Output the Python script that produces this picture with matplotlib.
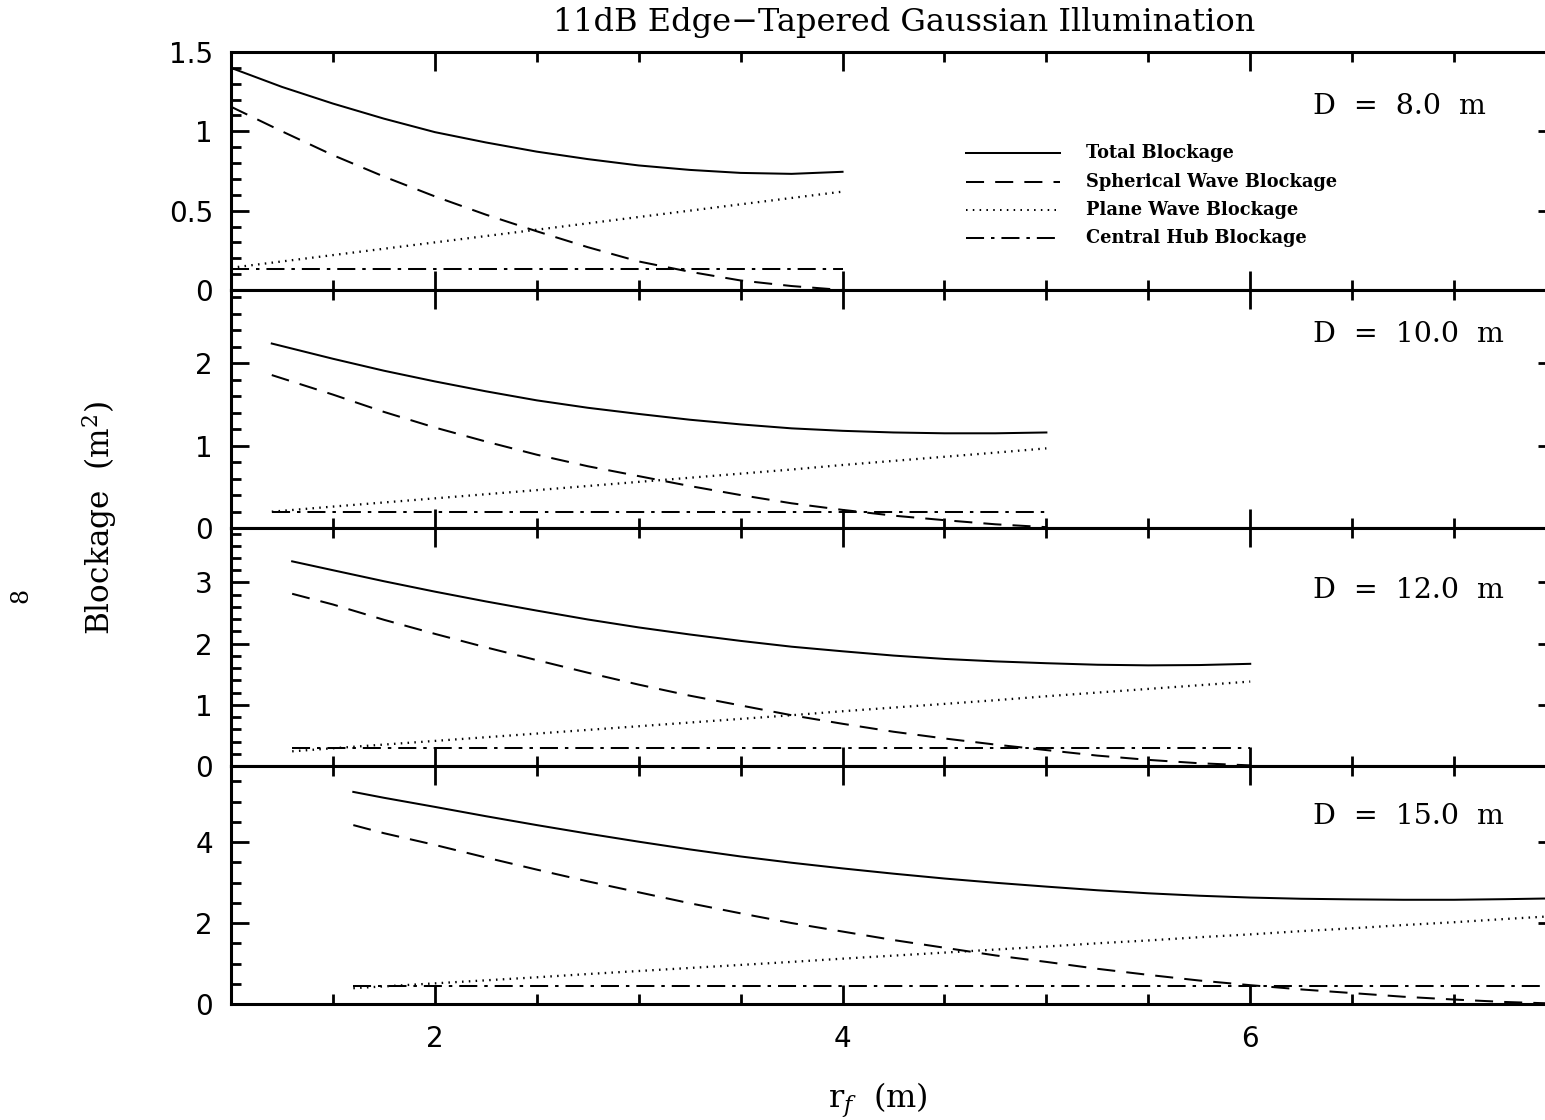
import matplotlib
matplotlib.use("Agg")
import matplotlib.pyplot as plt
from matplotlib.lines import Line2D
from matplotlib.ticker import MultipleLocator, FuncFormatter

# ---------------- data ----------------
title = "11dB Edge\u2212Tapered Gaussian Illumination"
dish_labels = ["D = 8.0 m", "D = 10.0 m", "D = 12.0 m", "D = 15.0 m"]
series_names = ["Total Blockage", "Spherical Wave Blockage",
                "Plane Wave Blockage", "Central Hub Blockage"]

rf_d8 = [1.0, 1.25, 1.5, 1.75, 2.0, 2.25, 2.5, 2.75, 3.0, 3.25, 3.5, 3.75, 4.0]
total_d8 = [1.40, 1.28, 1.175, 1.08, 0.995, 0.93, 0.872, 0.825, 0.785, 0.757, 0.738, 0.732, 0.745]
sph_d8 = [1.155, 1.0, 0.85, 0.715, 0.59, 0.475, 0.37, 0.27, 0.18, 0.115, 0.06, 0.025, 0.0]
plane_d8 = [0.14, 0.18, 0.22, 0.26, 0.30, 0.34, 0.38, 0.42, 0.46, 0.50, 0.54, 0.58, 0.62]
hub_d8 = [0.13, 0.13]

rf_d10 = [1.2, 1.5, 1.75, 2.0, 2.25, 2.5, 2.75, 3.0, 3.25, 3.5, 3.75, 4.0, 4.25, 4.5, 4.75, 5.0]
total_d10 = [2.24, 2.055, 1.91, 1.78, 1.66, 1.55, 1.46, 1.385, 1.315, 1.258, 1.21, 1.18, 1.16, 1.15, 1.15, 1.16]
sph_d10 = [1.857, 1.62, 1.41, 1.22, 1.05, 0.89, 0.75, 0.63, 0.51, 0.40, 0.30, 0.22, 0.15, 0.095, 0.045, 0.01]
plane_d10 = [0.198, 0.26, 0.31, 0.36, 0.41, 0.46, 0.51, 0.56, 0.61, 0.66, 0.71, 0.765, 0.815, 0.865, 0.915, 0.967]
hub_d10 = [0.20, 0.20]

rf_d12 = [1.3, 1.5, 1.75, 2.0, 2.25, 2.5, 2.75, 3.0, 3.25, 3.5, 3.75, 4.0, 4.25, 4.5, 4.75, 5.0,
          5.25, 5.5, 5.75, 6.0]
total_d12 = [3.345, 3.20, 3.02, 2.85, 2.69, 2.54, 2.395, 2.265, 2.15, 2.045, 1.95, 1.875, 1.805,
             1.75, 1.71, 1.68, 1.655, 1.645, 1.65, 1.67]
sph_d12 = [2.815, 2.64, 2.39, 2.16, 1.94, 1.73, 1.525, 1.33, 1.15, 0.99, 0.83, 0.69, 0.56, 0.45,
           0.35, 0.26, 0.17, 0.10, 0.045, 0.01]
plane_d12 = [0.24, 0.29, 0.35, 0.41, 0.47, 0.53, 0.59, 0.65, 0.71, 0.77, 0.83, 0.895, 0.955, 1.015,
             1.075, 1.14, 1.20, 1.26, 1.32, 1.38]
hub_d12 = [0.29, 0.29]

rf_d15 = [1.6, 1.75, 2.0, 2.25, 2.5, 2.75, 3.0, 3.25, 3.5, 3.75, 4.0, 4.25, 4.5, 4.75, 5.0, 5.25,
          5.5, 5.75, 6.0, 6.25, 6.5, 6.75, 7.0, 7.25, 7.5]
total_d15 = [5.24, 5.095, 4.87, 4.64, 4.42, 4.21, 4.01, 3.82, 3.645, 3.49, 3.35, 3.22, 3.10, 2.995,
             2.90, 2.81, 2.735, 2.675, 2.63, 2.60, 2.585, 2.575, 2.575, 2.59, 2.61]
sph_d15 = [4.42, 4.22, 3.93, 3.62, 3.32, 3.03, 2.76, 2.49, 2.24, 2.0, 1.79, 1.58, 1.39, 1.20, 1.04,
           0.87, 0.72, 0.58, 0.465, 0.36, 0.27, 0.18, 0.11, 0.05, 0.01]
plane_d15 = [0.39, 0.435, 0.51, 0.585, 0.66, 0.74, 0.815, 0.89, 0.965, 1.04, 1.12, 1.195, 1.27,
             1.345, 1.42, 1.50, 1.57, 1.65, 1.72, 1.80, 1.87, 1.95, 2.02, 2.10, 2.175]
hub_d15 = [0.445, 0.445]

y_max = [1.5, 2.89, 3.89, 5.88]
y_major = [0.5, 1, 1, 2]
y_minor = [0.1, 0.2, 0.2, 0.5]
x_range = [1.0, 7.5]

# ---------------- figure ----------------
W, H = 1545, 1120
plt.rcParams["lines.scale_dashes"] = False
plt.rcParams["mathtext.fontset"] = "dejavuserif"
fig = plt.figure(figsize=(W / 100, H / 100), dpi=100)

def fx(px):
    return px / W

def fy(py):
    return 1 - py / H

left, right, top, bottom = 231, 1556, 52, 1004
axes = fig.subplots(4, 1, sharex=True, gridspec_kw=dict(hspace=0))
fig.subplots_adjust(left=fx(left), right=fx(right), top=fy(top), bottom=fy(bottom))

styles = [dict(ls="-"),
          dict(ls=(0, (13, 8))),
          dict(ls=(0, (1.1, 3.8))),
          dict(ls=(0, (13, 5, 2.5, 5)))]
lw = 1.45

panels = [(rf_d8, total_d8, sph_d8, plane_d8, hub_d8),
          (rf_d10, total_d10, sph_d10, plane_d10, hub_d10),
          (rf_d12, total_d12, sph_d12, plane_d12, hub_d12),
          (rf_d15, total_d15, sph_d15, plane_d15, hub_d15)]

fmt = FuncFormatter(lambda v, p: f"{v:g}")
for i, (ax, (rf, tot, sph, pla, hub)) in enumerate(zip(axes, panels)):
    ax.plot(rf, tot, color="black", lw=lw, **styles[0])
    ax.plot(rf, sph, color="black", lw=lw, **styles[1])
    ax.plot(rf, pla, color="black", lw=lw + 0.2, **styles[2])
    ax.plot([rf[0], rf[-1]], hub, color="black", lw=lw, **styles[3])
    ax.set_xlim(*x_range)
    ax.set_ylim(0, y_max[i])
    ax.yaxis.set_major_locator(MultipleLocator(y_major[i]))
    ax.yaxis.set_minor_locator(MultipleLocator(y_minor[i]))
    ax.xaxis.set_major_locator(MultipleLocator(2))
    ax.xaxis.set_minor_locator(MultipleLocator(0.5))
    ax.yaxis.set_major_formatter(fmt)
    for s in ax.spines.values():
        s.set_linewidth(2.2)
    ax.tick_params(axis="both", which="both", direction="in", top=True, right=True,
                   width=2.0, labelsize=20, colors="black")
    ax.tick_params(axis="y", which="major", length=13, pad=13)
    ax.tick_params(axis="y", which="minor", length=7)
    ax.tick_params(axis="x", which="major", length=14, pad=15)
    ax.tick_params(axis="x", which="minor", length=7)
    for lab in ax.get_yticklabels() + ax.get_xticklabels():
        lab.set_fontfamily("DejaVu Sans")

serif = "DejaVu Serif"
fig.text(fx(904), fy(22), title, ha="center", va="center", fontsize=23, family=serif)

label_y = [107, 335, 590, 817]
for lab, py in zip(dish_labels, label_y):
    fig.text(fx(1313), fy(py), lab.replace(" ", "  "), ha="left", va="center",
             fontsize=20.5, family=serif)

# legend (top panel)
leg_y = [153, 182, 210, 238]
for st, name, py in zip(styles, series_names, leg_y):
    fig.add_artist(Line2D([fx(966), fx(1060)], [fy(py), fy(py)], color="black",
                          lw=lw, transform=fig.transFigure, **st))
    fig.text(fx(1086), fy(py), name, ha="left", va="center", fontsize=12.8,
             family=serif, fontweight="bold")

fig.text(fx(100), fy(518), "Blockage  (m$^2$)", rotation=90, ha="center", va="center",
         fontsize=22.5, family=serif)
fig.text(fx(878), fy(1100), "r$_f$  (m)", ha="center", va="center", fontsize=23, family=serif)
fig.text(fx(21), fy(595), "8", rotation=90, ha="center", va="center", fontsize=17, family=serif)

fig.savefig("out.png", dpi=100)
